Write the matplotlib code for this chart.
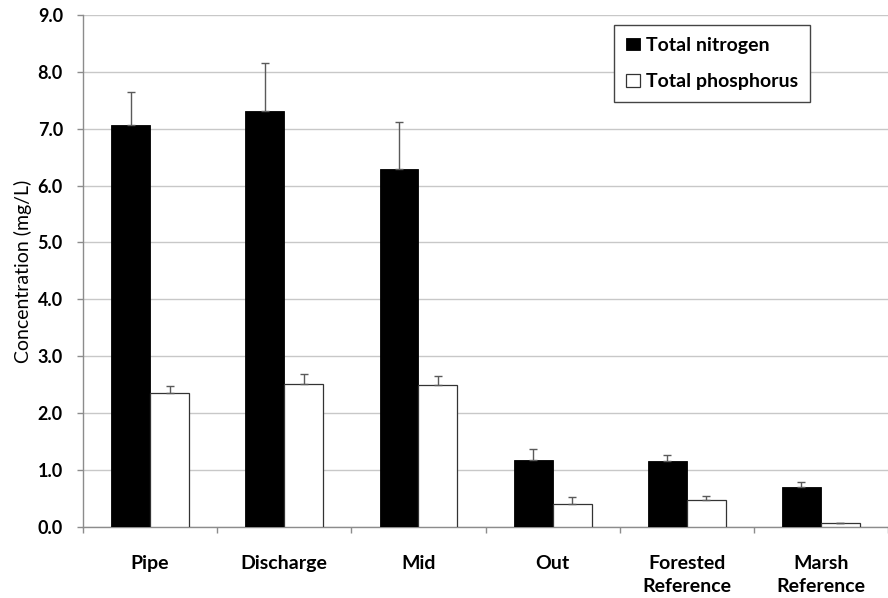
import numpy as np
import matplotlib.pyplot as plt
from matplotlib.ticker import FixedLocator, MultipleLocator, NullFormatter

# Mean nutrient concentrations per site with upper error bars (mg/L)
sites = ['Pipe', 'Discharge', 'Mid', 'Out', 'Forested\nReference', 'Marsh\nReference']
nitrogen = [7.07, 7.31, 6.30, 1.17, 1.15, 0.70]
nitrogen_err = [0.58, 0.84, 0.81, 0.20, 0.12, 0.08]
phosphorus = [2.35, 2.51, 2.49, 0.40, 0.48, 0.06]
phosphorus_err = [0.12, 0.17, 0.17, 0.12, 0.07, 0.01]

plt.rcParams['font.family'] = ['Lato', 'DejaVu Sans']

fig = plt.figure(figsize=(8.88, 5.98), dpi=100)
ax = fig.add_axes([0.0935, 0.119, 0.9065, 0.856])

x = np.arange(len(sites))
w = 0.29
grey = '#8c8c8c'

ax.bar(x - w / 2, nitrogen, w, color='black', edgecolor='black', linewidth=0.6,
       label='Total nitrogen', zorder=3)
ax.bar(x + w / 2, phosphorus, w, color='white', edgecolor='#333333', linewidth=0.9,
       label='Total phosphorus', zorder=3)

# one-sided (upper) error bars
ax.errorbar(x - w / 2, nitrogen, yerr=[np.zeros(len(x)), nitrogen_err], fmt='none',
            ecolor='#5a5a5a', elinewidth=1.0, capsize=3, capthick=1.0, zorder=4)
ax.errorbar(x + w / 2, phosphorus, yerr=[np.zeros(len(x)), phosphorus_err], fmt='none',
            ecolor='#5a5a5a', elinewidth=1.0, capsize=3, capthick=1.0, zorder=4)

ax.set_xlim(-0.5, len(sites) - 0.5)
ax.set_ylim(0, 9)
ax.yaxis.set_major_locator(MultipleLocator(1))
ax.set_yticklabels([f'{v:.1f}' for v in ax.get_yticks()], fontsize=13, fontweight='bold')
ax.yaxis.grid(True, color='#c8c8c8', linewidth=1.0, zorder=0)
ax.set_axisbelow(True)

ax.set_xticks(x)
ax.set_xticklabels(sites, fontsize=14, fontweight='bold', linespacing=1.45)
ax.xaxis.set_minor_locator(FixedLocator(np.arange(-0.5, len(sites), 1.0)))
ax.xaxis.set_minor_formatter(NullFormatter())
ax.tick_params(axis='x', which='major', length=0, pad=20)
ax.tick_params(axis='x', which='minor', length=4.5, color=grey, width=1)
ax.tick_params(axis='y', length=4.5, color=grey, width=1, pad=10)

for side in ('top', 'right'):
    ax.spines[side].set_visible(False)
for side in ('left', 'bottom'):
    ax.spines[side].set_color(grey)
    ax.spines[side].set_linewidth(1.0)

ax.set_ylabel('Concentration (mg/L)', fontsize=14, labelpad=4)

leg = ax.legend(loc='upper right', bbox_to_anchor=(0.903, 0.980), fancybox=False,
                framealpha=1, edgecolor='#444444', prop={'weight': 'bold', 'size': 14},
                handlelength=0.75, handleheight=0.6, handletextpad=0.3,
                borderpad=0.6, labelspacing=1.0, borderaxespad=0)
leg.get_frame().set_linewidth(1.0)

fig.savefig('out.png', dpi=100)
